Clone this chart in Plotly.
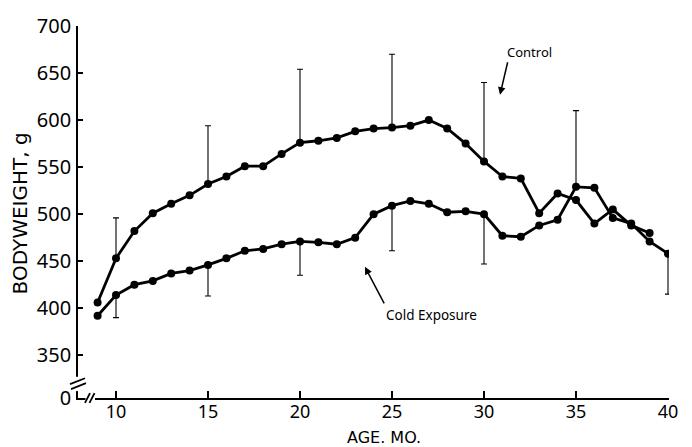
import plotly.graph_objects as go

# ---------------- data ----------------
control_months = list(range(9, 40))
control_weight = [406, 453, 482, 501, 511, 520, 532, 540, 551, 551, 564, 576, 578, 581, 588,
                  591, 592, 594, 600, 591, 575, 556, 540, 538, 501, 522, 515, 490, 505, 488, 480]

cold_months = list(range(9, 41))
cold_weight = [392, 414, 425, 429, 437, 440, 446, 453, 461, 463, 468, 471, 470, 468, 475,
               500, 509, 514, 511, 502, 503, 500, 477, 476, 488, 494, 529, 528, 496, 490, 471, 458]

# upper bars (control SD) drawn from the upper point at that month
upper_bar_months = [10, 15, 20, 25, 30, 35]
upper_bar_tops = [496, 594, 654, 670, 640, 610]
# lower bars (cold exposure SD)
lower_bar_months = [10, 15, 20, 25, 30, 40]
lower_bar_bottoms = [390, 413, 435, 461, 447, 415]

x_ticks = [10, 15, 20, 25, 30, 35, 40]
y_ticks = [350, 400, 450, 500, 550, 600, 650, 700]

# ---------------- derived ----------------
ctrl = dict(zip(control_months, control_weight))
cold = dict(zip(cold_months, cold_weight))

up_base = [max(ctrl.get(m, -1), cold.get(m, -1)) for m in upper_bar_months]
up_len = [t - b for t, b in zip(upper_bar_tops, up_base)]
lo_base = [cold[m] for m in lower_bar_months]
lo_len = [b - t for t, b in zip(lower_bar_bottoms, lo_base)]

W, H = 692, 447
PXY = 0.9533           # pixels per gram
PXX = 18.4             # pixels per month
# plot area in page pixels: x 78..669, y 21..398
L, R, T, B = 78, 23, 21, 49
PW, PH = W - L - R, H - T - B
X0, X1 = 7.935, 7.935 + PW / PXX
Y1 = 700
Y0 = Y1 - PH / PXY


def px(xp):
    return (xp - L) / PW


def py(yp):
    return (H - B - yp) / PH


FONT = "Noto Sans"
TFONT = "DejaVu Sans"
fig = go.Figure()

bar_style = dict(type="data", symmetric=False, color="black", thickness=1.1, width=3)
fig.add_trace(go.Scatter(x=upper_bar_months, y=up_base, mode="markers",
                         marker=dict(size=1, color="rgba(0,0,0,0)"),
                         error_y=dict(array=up_len, arrayminus=[0] * len(up_len), **bar_style),
                         hoverinfo="skip", showlegend=False))
fig.add_trace(go.Scatter(x=lower_bar_months, y=lo_base, mode="markers",
                         marker=dict(size=1, color="rgba(0,0,0,0)"),
                         error_y=dict(array=[0] * len(lo_len), arrayminus=lo_len, **bar_style),
                         hoverinfo="skip", showlegend=False))

line_style = dict(mode="lines+markers", line=dict(color="black", width=2.8),
                  marker=dict(size=8, color="black"), showlegend=False)
fig.add_trace(go.Scatter(x=control_months, y=control_weight, name="Control", **line_style))
fig.add_trace(go.Scatter(x=cold_months, y=cold_weight, name="Cold Exposure", **line_style))

fig.update_xaxes(range=[X0, X1], showline=True, linecolor="black", linewidth=1.8,
                 ticks="inside", ticklen=7, tickwidth=1.5, tickcolor="black",
                 tickvals=x_ticks, ticktext=[str(v) for v in x_ticks],
                 tickfont=dict(family=FONT, size=18, color="black"),
                 showgrid=False, zeroline=False, ticklabelstandoff=-4)
fig.update_yaxes(range=[Y0, Y1], showline=True, linecolor="black", linewidth=1.8,
                 ticks="inside", ticklen=5, tickwidth=1.5, tickcolor="black",
                 tickvals=[Y0] + y_ticks, ticktext=["0"] + [str(v) for v in y_ticks],
                 tickfont=dict(family=FONT, size=20, color="black"),
                 showgrid=False, zeroline=False, ticklabelstandoff=1)

shapes = [
    # gap in y axis
    dict(type="rect", xref="paper", yref="paper", x0=px(74), x1=px(84), y0=py(391), y1=py(376.5),
         fillcolor="white", line=dict(width=0), layer="above"),
    dict(type="line", xref="paper", yref="paper", x0=px(70), y0=py(384), x1=px(85), y1=py(378),
         line=dict(color="black", width=1.8), layer="above"),
    dict(type="line", xref="paper", yref="paper", x0=px(71), y0=py(389), x1=px(86), y1=py(383),
         line=dict(color="black", width=1.8), layer="above"),
    # gap in x axis
    dict(type="rect", xref="paper", yref="paper", x0=px(85.5), x1=px(95), y0=py(402), y1=py(394),
         fillcolor="white", line=dict(width=0), layer="above"),
    dict(type="line", xref="paper", yref="paper", x0=px(85), y0=py(403), x1=px(90), y1=py(393),
         line=dict(color="black", width=1.8), layer="above"),
    dict(type="line", xref="paper", yref="paper", x0=px(89.5), y0=py(403), x1=px(94.5), y1=py(393),
         line=dict(color="black", width=1.8), layer="above"),
]

annotations = [
    dict(text="Control", x=32.45, y=672.7, xref="x", yref="y", showarrow=False,
         font=dict(family=FONT, size=13, color="black")),
    dict(text="", x=30.87, y=626.9, xref="x", yref="y", ax=8, ay=-34, showarrow=True,
         arrowhead=2, arrowsize=1, arrowwidth=1.5, arrowcolor="black"),
    dict(text="Cold Exposure", x=27.17, y=392.6, xref="x", yref="y", showarrow=False,
         font=dict(family=FONT, size=13.5, color="black")),
    dict(text="", x=23.53, y=444.0, xref="x", yref="y", ax=20, ay=38, showarrow=True,
         arrowhead=2, arrowsize=1, arrowwidth=1.5, arrowcolor="black"),
    dict(text="AGE. MO.", x=px(384), y=py(438), xref="paper", yref="paper", showarrow=False,
         xanchor="center", yanchor="middle", font=dict(family=TFONT, size=16, color="black")),
    dict(text="BODYWEIGHT, g", x=px(20), y=py(211), xref="paper", yref="paper", showarrow=False,
         textangle=-90, xanchor="center", yanchor="middle",
         font=dict(family=TFONT, size=20, color="black")),
]

fig.update_layout(width=W, height=H, margin=dict(l=L, r=R, t=T, b=B, pad=0),
                  plot_bgcolor="white", paper_bgcolor="white",
                  shapes=shapes, annotations=annotations, showlegend=False)

fig.write_html("out.html", config={"displayModeBar": False},
               post_script="document.body.style.margin='0px';")
